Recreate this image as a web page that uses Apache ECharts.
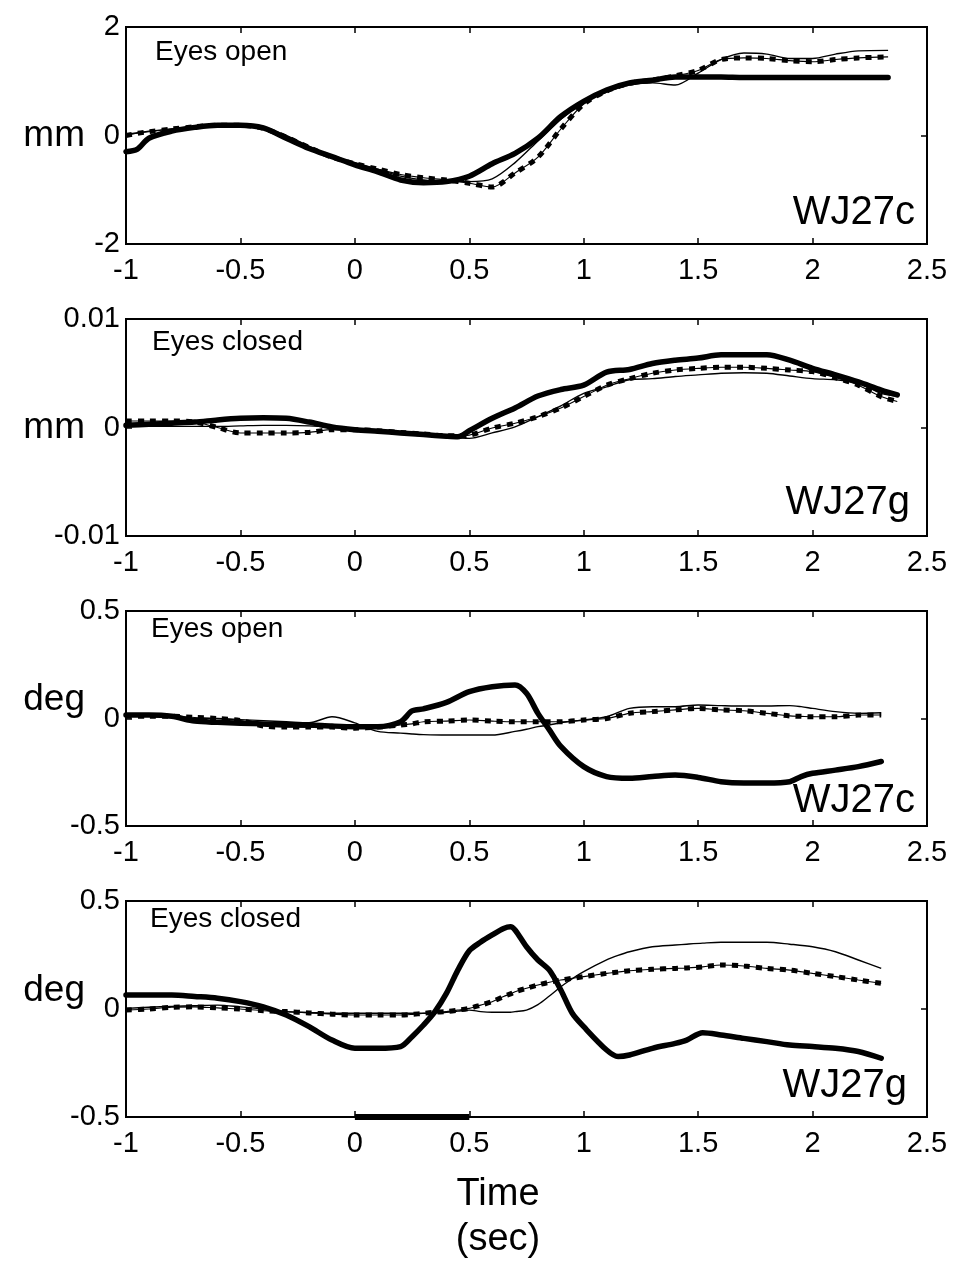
<!DOCTYPE html>
<html>
<head>
<meta charset="utf-8">
<script src="https://cdn.jsdelivr.net/npm/echarts@6/dist/echarts.min.js"></script>
<style>
  html, body { margin: 0; padding: 0; background: #fff; }
  #main { width: 958px; height: 1265px; }
</style>
</head>
<body>
<div id="main"></div>
<script>
// x ticks shared by all panels
const timeTicks = [-1, -0.5, 0, 0.5, 1, 1.5, 2, 2.5];

// panel 1: mm, eyes open, WJ27c
const t1 = [-1, -0.95, -0.9, -0.8, -0.7, -0.6, -0.5, -0.4, -0.3, -0.2, -0.1, 0, 0.1, 0.2, 0.3, 0.4, 0.5, 0.6, 0.7, 0.8, 0.9, 1.0, 1.1, 1.2, 1.3, 1.4, 1.5, 1.6, 1.7, 1.8, 1.9, 2.0, 2.1, 2.2, 2.33];
const thick1 = [-0.3, -0.25, -0.05, 0.08, 0.15, 0.19, 0.19, 0.14, -0.05, -0.24, -0.39, -0.54, -0.67, -0.82, -0.87, -0.85, -0.75, -0.52, -0.33, -0.05, 0.35, 0.63, 0.84, 0.97, 1.02, 1.08, 1.08, 1.08, 1.07, 1.07, 1.07, 1.07, 1.07, 1.07, 1.07];
const thin1 = [0.02, 0.05, 0.08, 0.12, 0.16, 0.19, 0.2, 0.15, 0.0, -0.2, -0.38, -0.5, -0.62, -0.75, -0.82, -0.85, -0.85, -0.8, -0.5, -0.1, 0.3, 0.6, 0.8, 0.93, 0.97, 0.93, 1.15, 1.4, 1.52, 1.5, 1.42, 1.42, 1.5, 1.56, 1.57];
const dot1 = [0.0, 0.04, 0.07, 0.12, 0.16, 0.19, 0.19, 0.13, -0.03, -0.22, -0.4, -0.52, -0.62, -0.72, -0.78, -0.82, -0.88, -0.95, -0.69, -0.4, 0.12, 0.58, 0.82, 0.96, 1.02, 1.1, 1.2, 1.4, 1.43, 1.42, 1.38, 1.36, 1.4, 1.43, 1.45];

// panel 2: mm, eyes closed, WJ27g
const t2 = [-1, -0.9, -0.8, -0.7, -0.6, -0.5, -0.4, -0.3, -0.2, -0.1, 0, 0.1, 0.2, 0.3, 0.4, 0.45, 0.5, 0.6, 0.7, 0.8, 0.9, 1.0, 1.1, 1.2, 1.3, 1.4, 1.5, 1.6, 1.7, 1.8, 1.9, 2.0, 2.1, 2.2, 2.3, 2.37];
const thick2 = [0.0002, 0.0003, 0.0004, 0.0005, 0.0007, 0.00085, 0.0009, 0.00085, 0.0005, 0.00005, -0.0002, -0.00035, -0.0005, -0.00065, -0.0008, -0.00085, -0.0003, 0.00085, 0.0018, 0.0029, 0.0035, 0.0039, 0.0051, 0.00535, 0.0059, 0.0062, 0.0064, 0.0067, 0.0067, 0.0067, 0.0062, 0.00545, 0.00485, 0.0042, 0.00345, 0.003];
const thin2 = [0.0001, 0.0001, 0.0001, 0.0001, 0.0001, 0.00015, 0.0002, 0.0002, 0.00015, 0.0, -0.0002, -0.00035, -0.0005, -0.0007, -0.0009, -0.00095, -0.001, -0.0005, 0.00005, 0.001, 0.002, 0.00315, 0.00375, 0.0044, 0.0045, 0.0047, 0.00485, 0.005, 0.00505, 0.005, 0.00475, 0.0045, 0.0044, 0.0041, 0.00315, 0.0029];
const dot2 = [0.0006, 0.0006, 0.0006, 0.0005, 0.0, -0.0005, -0.0005, -0.0005, -0.00045, -0.0002, -0.0002, -0.0003, -0.00045, -0.0006, -0.00075, -0.00075, -0.0007, -0.00005, 0.0004, 0.001, 0.0018, 0.00285, 0.0039, 0.0045, 0.005, 0.0053, 0.00545, 0.00555, 0.00555, 0.00545, 0.0053, 0.00515, 0.0046, 0.0039, 0.00285, 0.0024];

// panel 3: deg, eyes open, WJ27c
const t3 = [-1, -0.9, -0.8, -0.7, -0.6, -0.5, -0.4, -0.3, -0.2, -0.1, 0, 0.1, 0.2, 0.25, 0.3, 0.4, 0.5, 0.6, 0.7, 0.75, 0.8, 0.85, 0.9, 1.0, 1.1, 1.2, 1.3, 1.4, 1.5, 1.6, 1.7, 1.8, 1.9, 1.95, 2.0, 2.1, 2.2, 2.3];
const thick3 = [0.016, 0.016, 0.01, -0.012, -0.018, -0.022, -0.025, -0.028, -0.03, -0.035, -0.038, -0.038, -0.015, 0.035, 0.045, 0.075, 0.125, 0.148, 0.156, 0.117, 0.024, -0.053, -0.13, -0.224, -0.27, -0.278, -0.27, -0.263, -0.274, -0.294, -0.3, -0.3, -0.294, -0.27, -0.255, -0.24, -0.224, -0.2];
const thin3 = [0.01, 0.01, 0.005, 0.0, 0.0, -0.005, -0.01, -0.015, -0.02, 0.008, -0.02, -0.06, -0.068, -0.072, -0.075, -0.077, -0.077, -0.077, -0.06, -0.05, -0.038, -0.03, -0.02, -0.007, 0.008, 0.047, 0.055, 0.055, 0.063, 0.06, 0.058, 0.058, 0.06, 0.055, 0.047, 0.032, 0.024, 0.027];
const dot3 = [0.01, 0.01, 0.01, 0.005, 0.0, -0.01, -0.035, -0.04, -0.04, -0.04, -0.045, -0.04, -0.03, -0.025, -0.015, -0.012, -0.007, -0.012, -0.015, -0.015, -0.015, -0.015, -0.015, -0.007, 0.0, 0.024, 0.032, 0.04, 0.047, 0.04, 0.036, 0.024, 0.012, 0.01, 0.008, 0.008, 0.016, 0.016];

// panel 4: deg, eyes closed, WJ27g
const t4 = [-1, -0.9, -0.8, -0.7, -0.6, -0.5, -0.4, -0.3, -0.2, -0.1, 0, 0.1, 0.2, 0.25, 0.3, 0.35, 0.4, 0.45, 0.5, 0.55, 0.6, 0.65, 0.68, 0.7, 0.75, 0.8, 0.85, 0.9, 0.95, 1.0, 1.1, 1.15, 1.2, 1.3, 1.4, 1.45, 1.52, 1.6, 1.7, 1.8, 1.9, 2.0, 2.1, 2.2, 2.3];
const thick4 = [0.065, 0.065, 0.065, 0.058, 0.05, 0.034, 0.01, -0.028, -0.082, -0.144, -0.182, -0.182, -0.174, -0.128, -0.074, -0.012, 0.072, 0.18, 0.27, 0.31, 0.343, 0.373, 0.381, 0.366, 0.288, 0.227, 0.18, 0.088, -0.02, -0.082, -0.19, -0.22, -0.213, -0.182, -0.159, -0.144, -0.11, -0.12, -0.136, -0.151, -0.167, -0.174, -0.182, -0.197, -0.228];
const thin4 = [0.003, 0.008, 0.012, 0.015, 0.018, 0.01, 0.0, -0.012, -0.016, -0.02, -0.02, -0.02, -0.02, -0.02, -0.02, -0.018, -0.015, -0.01, -0.005, -0.012, -0.015, -0.015, -0.015, -0.012, -0.005, 0.02, 0.06, 0.103, 0.14, 0.173, 0.227, 0.248, 0.265, 0.288, 0.296, 0.3, 0.305, 0.309, 0.309, 0.309, 0.3, 0.288, 0.265, 0.227, 0.188];
const dot4 = [-0.005, 0.0, 0.008, 0.01, 0.005, 0.0, -0.008, -0.012, -0.018, -0.024, -0.028, -0.028, -0.028, -0.025, -0.02, -0.015, -0.012, -0.005, 0.003, 0.018, 0.034, 0.058, 0.07, 0.08, 0.096, 0.111, 0.124, 0.134, 0.142, 0.15, 0.165, 0.171, 0.177, 0.184, 0.188, 0.19, 0.195, 0.204, 0.199, 0.188, 0.18, 0.165, 0.15, 0.134, 0.119];

// stimulus bar under panel 4
const stimT = [0, 0.5];
const stimY = [-0.5, -0.5];

const panels = [
  { t: t1, thick: thick1, thin: thin1, dot: dot1, min: -2, max: 2, step: 2, unit: 'mm', cond: 'Eyes open', id: 'WJ27c' },
  { t: t2, thick: thick2, thin: thin2, dot: dot2, min: -0.01, max: 0.01, step: 0.01, unit: 'mm', cond: 'Eyes closed', id: 'WJ27g' },
  { t: t3, thick: thick3, thin: thin3, dot: dot3, min: -0.5, max: 0.5, step: 0.5, unit: 'deg', cond: 'Eyes open', id: 'WJ27c' },
  { t: t4, thick: thick4, thin: thin4, dot: dot4, min: -0.5, max: 0.5, step: 0.5, unit: 'deg', cond: 'Eyes closed', id: 'WJ27g' }
];

// layout of each box (px)
const boxTop = [27, 319, 611, 901];
const boxH = [217, 217, 215, 216];
const condPos = [[155, 38], [152, 328], [151, 615], [150, 905]];
const idPos = [[915, 233], [910, 523], [915, 821], [907, 1106]];
const unitAlign = ['middle', 'middle', 'bottom', 'bottom'];

const FONT = '"Liberation Sans", Arial, Helvetica, sans-serif';

function pairs(t, v) {
  return t.map((x, i) => [x, v[i]]);
}

const lineBlack = { color: '#000', width: 2 };
const tickBlack = { show: true, inside: true, length: 6, lineStyle: { color: '#000', width: 1.5 } };

const grid = [], xAxis = [], yAxis = [], series = [], graphic = [];

panels.forEach((p, i) => {
  grid.push({
    left: 126, right: 31, top: boxTop[i], height: boxH[i],
    outerBoundsMode: 'none', containLabel: false,
    show: true, borderColor: '#000', borderWidth: 2, backgroundColor: '#fff'
  });
  // bottom x axis with labels
  xAxis.push({
    type: 'value', gridIndex: i, position: 'bottom', min: -1, max: 2.5, interval: 0.5,
    axisLine: { show: true, onZero: false, lineStyle: lineBlack },
    axisTick: tickBlack,
    axisLabel: { color: '#000', fontSize: 29, fontFamily: FONT, margin: 12 },
    splitLine: { show: false }
  });
  // top x axis, ticks only
  xAxis.push({
    type: 'value', gridIndex: i, position: 'top', min: -1, max: 2.5, interval: 0.5,
    axisLine: { show: true, onZero: false, lineStyle: lineBlack },
    axisTick: tickBlack,
    axisLabel: { show: false },
    splitLine: { show: false }
  });
  yAxis.push({
    type: 'value', gridIndex: i, position: 'left', min: p.min, max: p.max, interval: p.step,
    name: p.unit, nameLocation: 'middle', nameRotate: 0, nameGap: 41, nameMoveOverlap: false,
    nameTextStyle: { color: '#000', fontSize: 37, fontFamily: FONT, verticalAlign: unitAlign[i] },
    axisLine: { show: true, onZero: false, lineStyle: lineBlack },
    axisTick: tickBlack,
    axisLabel: { color: '#000', fontSize: 29, fontFamily: FONT, margin: 6 },
    splitLine: { show: false }
  });
  yAxis.push({
    type: 'value', gridIndex: i, position: 'right', min: p.min, max: p.max, interval: p.step,
    axisLine: { show: true, onZero: false, lineStyle: lineBlack },
    axisTick: tickBlack,
    axisLabel: { show: false },
    splitLine: { show: false }
  });

  const xi = i * 2, yi = i * 2;
  const base = { type: 'line', xAxisIndex: xi, yAxisIndex: yi, showSymbol: false, symbol: 'none', smooth: 0.3, animation: false, silent: true };
  series.push(Object.assign({}, base, {
    name: 'thin' + i, data: pairs(p.t, p.thin),
    lineStyle: { color: '#000', width: 1.4 }
  }));
  series.push(Object.assign({}, base, {
    name: 'dotbase' + i, data: pairs(p.t, p.dot),
    lineStyle: { color: '#000', width: 1.1 }
  }));
  series.push(Object.assign({}, base, {
    name: 'dot' + i, data: pairs(p.t, p.dot),
    lineStyle: { color: '#000', width: 5, type: [6, 6], cap: 'butt' }
  }));
  series.push(Object.assign({}, base, {
    name: 'thick' + i, data: pairs(p.t, p.thick),
    lineStyle: { color: '#000', width: 5.5, cap: 'round', join: 'round' }
  }));

  graphic.push({
    type: 'text', x: condPos[i][0], y: condPos[i][1], z: 100,
    style: { text: p.cond, font: '28px ' + FONT, fill: '#000', align: 'left', verticalAlign: 'top' }
  });
  graphic.push({
    type: 'text', x: idPos[i][0], y: idPos[i][1], z: 100,
    style: { text: p.id, font: '40px ' + FONT, fill: '#000', align: 'right', verticalAlign: 'bottom' }
  });
});

// stimulus marker along bottom axis of panel 4
series.push({
  type: 'line', name: 'stim', xAxisIndex: 6, yAxisIndex: 6, data: pairs(stimT, stimY),
  showSymbol: false, symbol: 'none', clip: false, animation: false, silent: true,
  lineStyle: { color: '#000', width: 6, cap: 'butt' }
});

graphic.push({
  type: 'text', x: 498, y: 1195,
  style: { text: 'Time', font: '38px ' + FONT, fill: '#000', align: 'center', verticalAlign: 'middle' }
});
graphic.push({
  type: 'text', x: 498, y: 1240,
  style: { text: '(sec)', font: '38px ' + FONT, fill: '#000', align: 'center', verticalAlign: 'middle' }
});

const myChart = echarts.init(document.getElementById('main'), null, { renderer: 'canvas' });
myChart.setOption({
  backgroundColor: '#fff',
  animation: false,
  grid: grid,
  xAxis: xAxis,
  yAxis: yAxis,
  series: series,
  graphic: graphic
});
</script>
</body>
</html>
